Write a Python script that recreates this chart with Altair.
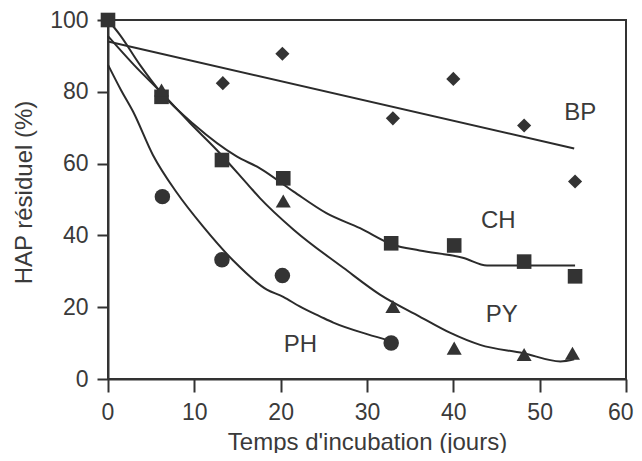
import altair as alt
import pandas as pd

# ---- observed points ----
bp_x = [13.3, 20.2, 33.0, 40.0, 48.2, 54.1]
bp_y = [82.4, 90.6, 72.6, 83.6, 70.6, 55.0]

ch_x = [0, 6.2, 13.2, 20.3, 32.8, 40.1, 48.2, 54.1]
ch_y = [100, 78.6, 61.0, 55.9, 37.8, 37.2, 32.7, 28.6]

py_x = [6.2, 20.3, 33.0, 40.1, 48.2, 53.8]
py_y = [80.5, 49.6, 20.2, 8.6, 6.8, 7.2]

ph_x = [6.3, 13.2, 20.2, 32.8]
ph_y = [50.8, 33.2, 28.8, 10.0]

# ---- fitted curves ----
bp_fit_x = [0, 54]
bp_fit_y = [94.0, 64.2]

ch_fit_x = [0, 1.4, 3.7, 6.2, 10, 14.9, 17.6, 21.5, 25.3, 29.2, 33.0, 36.1, 41.2, 43.9, 54.1]
ch_fit_y = [100, 95.8, 87.5, 79.6, 70.8, 62.0, 58.7, 52.2, 46.2, 42.0, 37.4, 35.8, 33.7, 31.6, 31.6]

py_fit_x = [0, 3, 6.5, 9.5, 12.6, 16.4, 17.6, 21.5, 27.3, 31.5, 36.1, 39.6, 43.1, 48.1, 52.4, 54.0]
py_fit_y = [95.5, 87.5, 79.0, 71.3, 63.8, 53.6, 50.4, 41.6, 30.9, 23.5, 17.4, 12.9, 9.5, 7.2, 4.9, 5.5]

ph_fit_x = [0, 1.5, 2.9, 5.2, 8.0, 11.0, 14.5, 18.4, 20.3, 22.2, 24.6, 26.1, 30.0, 32.9]
ph_fit_y = [87.5, 80.5, 74.5, 62.4, 51.8, 42.5, 33.0, 24.9, 22.9, 20.2, 17.4, 15.7, 12.5, 10.5]

# ---- labels ----
lab_text = ["BP", "CH", "PY", "PH"]
lab_x = [54.7, 45.2, 45.6, 22.3]
lab_y = [74.0, 43.9, 17.9, 9.5]

x_ticks = [0, 10, 20, 30, 40, 50, 60]
y_ticks = [0, 20, 40, 60, 80, 100]

series = ["BP", "CH", "PY", "PH"]
shapes = ["diamond", "square", "triangle-up", "circle"]
sizes = [200, 240, 230, 200]

pts = pd.concat([
    pd.DataFrame({"x": bp_x, "y": bp_y, "s": "BP"}),
    pd.DataFrame({"x": ch_x, "y": ch_y, "s": "CH"}),
    pd.DataFrame({"x": py_x, "y": py_y, "s": "PY"}),
    pd.DataFrame({"x": ph_x, "y": ph_y, "s": "PH"}),
], ignore_index=True)

fits = pd.concat([
    pd.DataFrame({"x": bp_fit_x, "y": bp_fit_y, "s": "BP"}),
    pd.DataFrame({"x": ch_fit_x, "y": ch_fit_y, "s": "CH"}),
    pd.DataFrame({"x": py_fit_x, "y": py_fit_y, "s": "PY"}),
    pd.DataFrame({"x": ph_fit_x, "y": ph_fit_y, "s": "PH"}),
], ignore_index=True)

labs = pd.DataFrame({"x": lab_x, "y": lab_y, "t": lab_text})

# top and right edges of the plot frame, at the ends of the axis ranges
top_edge = pd.DataFrame({"x0": [x_ticks[0]], "x1": [x_ticks[-1]], "y0": [y_ticks[-1]]})
right_edge = pd.DataFrame({"x0": [x_ticks[-1]], "y0": [y_ticks[0]], "y1": [y_ticks[-1]]})

FONT = "Liberation Sans"
INK = "#333333"

xs = alt.Scale(domain=[0, 60], nice=False, zero=False)
ys = alt.Scale(domain=[0, 100], nice=False, zero=False)

x_axis = alt.Axis(values=x_ticks, title="Temps d'incubation (jours)", tickSize=13,
                  labelPadding=9, labelFlush=True, labelFlushOffset=7,
                  titleBaseline="alphabetic", titleY=70,
                  titleFontSize=24, labelFontSize=23)
y_axis = alt.Axis(values=y_ticks, title="HAP résiduel (%)", tickSize=11,
                  labelPadding=9, labelFlush=False, titleAngle=270, titleAlign="center",
                  titleBaseline="alphabetic", titleX=-77, titleY=172,
                  titleFontSize=24, labelFontSize=23)

lines = alt.Chart(fits).mark_line(color="#2b2b2b", strokeWidth=2, interpolate="monotone").encode(
    x=alt.X("x:Q", scale=xs, axis=x_axis),
    y=alt.Y("y:Q", scale=ys, axis=y_axis),
    detail="s:N",
)

top_rule = alt.Chart(top_edge).mark_rule(color=INK, strokeWidth=2).encode(
    x=alt.X("x0:Q", scale=xs), x2="x1:Q", y=alt.Y("y0:Q", scale=ys),
)
right_rule = alt.Chart(right_edge).mark_rule(color=INK, strokeWidth=2).encode(
    x=alt.X("x0:Q", scale=xs), y=alt.Y("y0:Q", scale=ys), y2="y1:Q",
)

points = alt.Chart(pts).mark_point(filled=True, opacity=1, color=INK).encode(
    x=alt.X("x:Q", scale=xs),
    y=alt.Y("y:Q", scale=ys),
    shape=alt.Shape("s:N", scale=alt.Scale(domain=series, range=shapes), legend=None),
    size=alt.Size("s:N", scale=alt.Scale(domain=series, range=sizes), legend=None),
)

texts = alt.Chart(labs).mark_text(font=FONT, fontSize=24, color="#3a3a3a",
                                  align="center", baseline="middle").encode(
    x=alt.X("x:Q", scale=xs),
    y=alt.Y("y:Q", scale=ys),
    text="t:N",
)

chart = alt.layer(lines, top_rule, right_rule, points, texts).properties(
    width=518, height=359,
    autosize=alt.AutoSizeParams(type="none"),
    padding={"left": 100, "top": 12, "right": 8, "bottom": 74},
    background="white",
).configure_view(
    stroke=INK, strokeWidth=2
).configure_axis(
    grid=False, domainColor=INK, domainWidth=2, tickColor=INK, tickWidth=2,
    labelFont=FONT, titleFont=FONT, labelColor="#3a3a3a", titleColor="#3a3a3a",
    titleFontWeight="normal",
)

chart.save("out.html", embed_options={"renderer": "svg", "actions": False})
